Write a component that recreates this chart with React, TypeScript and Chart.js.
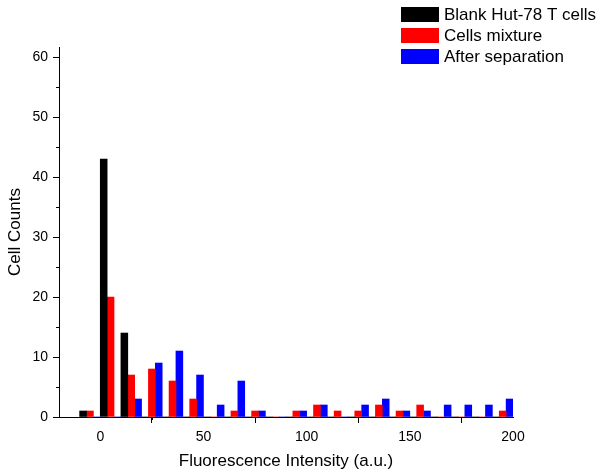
import React, { useEffect, useRef } from 'react';
import { Chart, registerables } from 'chart.js';

Chart.register(...registerables);

// Histogram bins (start of each 10-unit bin)
const binStarts = [-10, 0, 10, 20, 30, 40, 50, 60, 70, 80, 90, 100, 110, 120, 130, 140, 150, 160, 170, 180, 190];
const binWidth = 10;

const seriesNames = ['Blank Hut-78 T cells', 'Cells mixture', 'After separation'];
const blankCounts = [1, 43, 14, 0, 0, 0, 0, 0, 0, 0, 0, 0, 0, 0, 0, 0, 0, 0, 0, 0, 0];
const mixtureCounts = [1, 20, 7, 8, 6, 3, 0, 1, 1, 0, 1, 2, 1, 1, 2, 1, 2, 0, 0, 0, 1];
const separatedCounts = [0, 0, 3, 9, 11, 7, 2, 6, 1, 0, 1, 2, 0, 2, 3, 1, 1, 2, 2, 2, 3];
const seriesColors = ['#000000', '#ff0000', '#0000ff'];

const xMin = -20;
const xMax = 200;
const xTickStep = 50;
const yMin = 0;
const yMax = 61.7;
const yTickStep = 10;

const xTitle = 'Fluorescence Intensity (a.u.)';
const yTitle = 'Cell Counts';

const FONT = '"Liberation Sans", Arial, Helvetica, sans-serif';

const minorTicksPlugin = {
  id: 'minorTicks',
  afterDraw(chart: any) {
    const ctx = chart.ctx;
    ctx.save();
    ctx.strokeStyle = '#000';
    ctx.lineWidth = 1;
    const xs = chart.scales.x;
    const ys = chart.scales.y;
    const xt = xs.ticks.map((t: any) => t.value);
    for (let i = 0; i < xt.length - 1; i++) {
      const v = (xt[i] + xt[i + 1]) / 2;
      const px = Math.round(xs.getPixelForValue(v)) + 0.5;
      ctx.beginPath();
      ctx.moveTo(px, xs.top);
      ctx.lineTo(px, xs.top + 3);
      ctx.stroke();
    }
    const yt = ys.ticks.map((t: any) => t.value);
    for (let i = 0; i < yt.length - 1; i++) {
      const v = (yt[i] + yt[i + 1]) / 2;
      const py = Math.round(ys.getPixelForValue(v)) + 0.5;
      ctx.beginPath();
      ctx.moveTo(ys.right - 3, py);
      ctx.lineTo(ys.right, py);
      ctx.stroke();
    }
    ctx.restore();
  },
};

const boxLegendPlugin = {
  id: 'boxLegend',
  afterDraw(chart: any) {
    const ctx = chart.ctx;
    ctx.save();
    ctx.font = `17px ${FONT}`;
    ctx.textBaseline = 'middle';
    ctx.textAlign = 'left';
    chart.data.datasets.forEach((ds: any, i: number) => {
      const y = 7 + i * 21;
      ctx.fillStyle = ds.backgroundColor;
      ctx.fillRect(401, y, 38, 15);
      ctx.fillStyle = '#000';
      ctx.fillText(ds.label, 444, y + 8);
    });
    ctx.restore();
  },
};

export default function App() {
  const canvasRef = useRef<HTMLCanvasElement | null>(null);

  useEffect(() => {
    if (!canvasRef.current) return;
    const seriesValues = [blankCounts, mixtureCounts, separatedCounts];
    const datasets = seriesValues.map((vals, si) => ({
      label: seriesNames[si],
      data: binStarts.map((b, i) => ({ x: b + binWidth / 2, y: vals[i] })),
      backgroundColor: seriesColors[si],
      borderWidth: 0,
      categoryPercentage: 1,
      barPercentage: 1,
    }));

    const chart = new Chart(canvasRef.current, {
      type: 'bar',
      data: { datasets },
      options: {
        animation: false,
        responsive: true,
        maintainAspectRatio: false,
        layout: { padding: { top: 47, right: 87, left: 0, bottom: 0 } },
        plugins: {
          legend: { display: false },
          tooltip: { enabled: false },
        },
        scales: {
          x: {
            type: 'linear',
            min: xMin,
            max: xMax,
            offset: false,
            afterFit: (s: any) => { s.height = 59; },
            ticks: {
              stepSize: xTickStep,
              includeBounds: false,
              color: '#000',
              padding: 6,
              maxRotation: 0,
              font: { family: FONT, size: 14 },
            },
            grid: {
              display: true,
              drawOnChartArea: false,
              drawTicks: true,
              tickLength: 6,
              tickColor: '#000',
              color: '#000',
            },
            border: { display: true, color: '#000', width: 1 },
            title: {
              display: true,
              text: xTitle,
              color: '#000',
              font: { family: FONT, size: 17 },
              padding: { top: 4, bottom: 4 },
            },
          },
          y: {
            type: 'linear',
            min: yMin,
            max: yMax,
            afterFit: (s: any) => { s.width = 59; },
            ticks: {
              stepSize: yTickStep,
              includeBounds: false,
              color: '#000',
              padding: 5,
              font: { family: FONT, size: 14 },
            },
            grid: {
              display: true,
              drawOnChartArea: false,
              drawTicks: true,
              tickLength: 6,
              tickColor: '#000',
              color: '#000',
            },
            border: { display: true, color: '#000', width: 1 },
            title: {
              display: true,
              text: yTitle,
              color: '#000',
              font: { family: FONT, size: 17 },
              padding: { top: 5, bottom: 4 },
            },
          },
        },
      },
      plugins: [minorTicksPlugin, boxLegendPlugin],
    } as any);

    return () => chart.destroy();
  }, []);

  return (
    <div style={{ position: 'absolute', left: 0, top: 0, width: 600, height: 476, background: '#fff' }}>
      <canvas ref={canvasRef} />
    </div>
  );
}
